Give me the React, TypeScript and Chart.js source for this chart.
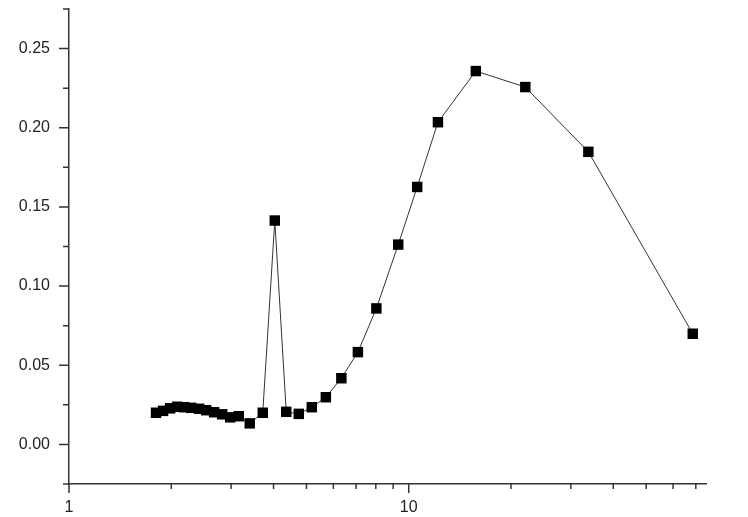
import React, { useEffect, useRef } from 'react';
import { Chart, registerables } from 'chart.js';

Chart.register(...registerables);

const xValues = [
  1.804, 1.892, 1.985, 2.081, 2.183, 2.289, 2.416, 2.534, 2.675, 2.824, 2.982, 3.16, 3.404,
  3.718, 4.034, 4.36, 4.747, 5.184, 5.702, 6.334, 7.085, 8.031, 9.313, 10.59, 12.19,
  15.76, 22.04, 33.79, 68.57,
];
const yValues = [
  0.02, 0.0212, 0.0228, 0.0238, 0.0235, 0.0231, 0.0225, 0.0216, 0.0203, 0.019, 0.0171, 0.0178, 0.0133,
  0.02, 0.1414, 0.0206, 0.0193, 0.0235, 0.0298, 0.0418, 0.0583, 0.0859, 0.1262, 0.1626, 0.2035,
  0.2358, 0.2257, 0.1848, 0.0699,
];

const xLabelTicks = [1, 10];
const xMinorTicks = [2, 3, 4, 5, 6, 7, 8, 9, 20, 30, 40, 50, 60, 70];
const yLabelTicks = [0, 0.05, 0.1, 0.15, 0.2, 0.25];
const yMinorTicks = [-0.025, 0.025, 0.075, 0.125, 0.175, 0.225, 0.275];

const X_MIN = 1;
const X_MAX = 75;
const Y_MIN = -0.025;
const Y_MAX = 0.275;

const AXIS_COLOR = '#333333';
const FONT_FAMILY = '"Liberation Sans", Arial, sans-serif';

const tickPlugin = {
  id: 'customTicks',
  afterDraw(chart: any) {
    const { ctx, chartArea } = chart;
    const xs = chart.scales.x;
    const ys = chart.scales.y;
    ctx.save();
    ctx.strokeStyle = AXIS_COLOR;
    ctx.lineWidth = 1.5;
    ctx.beginPath();
    const drawY = (v: number, len: number) => {
      const py = ys.getPixelForValue(v);
      ctx.moveTo(chartArea.left - len, py);
      ctx.lineTo(chartArea.left, py);
    };
    const drawX = (v: number, len: number) => {
      const px = xs.getPixelForValue(v);
      ctx.moveTo(px, chartArea.bottom);
      ctx.lineTo(px, chartArea.bottom + len);
    };
    yLabelTicks.forEach((v) => drawY(v, 10));
    yMinorTicks.forEach((v) => drawY(v, 6));
    xLabelTicks.forEach((v) => drawX(v, 9));
    xMinorTicks.forEach((v) => drawX(v, 5));
    ctx.stroke();
    ctx.restore();
  },
};

export default function App() {
  const canvasRef = useRef<HTMLCanvasElement | null>(null);

  useEffect(() => {
    if (!canvasRef.current) return;
    const data = xValues.map((x, i) => ({ x, y: yValues[i] }));
    const chart = new Chart(canvasRef.current, {
      type: 'line',
      data: {
        datasets: [
          {
            data,
            borderColor: '#333333',
            borderWidth: 1,
            pointStyle: 'rect',
            pointRadius: 7.4,
            pointHoverRadius: 7.4,
            pointBorderWidth: 0,
            pointBackgroundColor: '#000000',
            pointBorderColor: '#000000',
            tension: 0,
            fill: false,
          },
        ],
      },
      options: {
        responsive: false,
        animation: false,
        events: [],
        layout: { padding: { left: 0, right: 42, top: 9, bottom: 0 } },
        plugins: {
          legend: { display: false },
          tooltip: { enabled: false },
          title: { display: false },
        },
        scales: {
          x: {
            type: 'logarithmic',
            min: X_MIN,
            max: X_MAX,
            afterBuildTicks: (scale: any) => {
              scale.ticks = xLabelTicks.map((v) => ({ value: v }));
            },
            afterFit: (scale: any) => {
              scale.height = 33;
              scale.paddingLeft = 0;
              scale.paddingRight = 0;
            },
            grid: { display: false, drawTicks: false },
            border: { display: true, color: AXIS_COLOR, width: 1.5 },
            ticks: {
              autoSkip: false,
              maxRotation: 0,
              padding: 14,
              color: '#222222',
              font: { family: FONT_FAMILY, size: 16 },
              callback: (v: any) => String(v),
            },
          },
          y: {
            type: 'linear',
            min: Y_MIN,
            max: Y_MAX,
            afterBuildTicks: (scale: any) => {
              scale.ticks = yLabelTicks.map((v) => ({ value: v }));
            },
            afterFit: (scale: any) => {
              scale.width = 69;
              scale.paddingTop = 0;
              scale.paddingBottom = 0;
            },
            grid: { display: false, drawTicks: false },
            border: { display: true, color: AXIS_COLOR, width: 1.5 },
            ticks: {
              autoSkip: false,
              padding: 19,
              color: '#222222',
              font: { family: FONT_FAMILY, size: 16 },
              callback: (v: any) => Number(v).toFixed(2),
            },
          },
        },
      },
      plugins: [tickPlugin],
    });
    return () => chart.destroy();
  }, []);

  return (
    <div style={{ position: 'fixed', left: 0, top: 0, width: 748, height: 517, background: '#ffffff' }}>
      <canvas ref={canvasRef} width={748} height={517} style={{ display: 'block' }} />
    </div>
  );
}
